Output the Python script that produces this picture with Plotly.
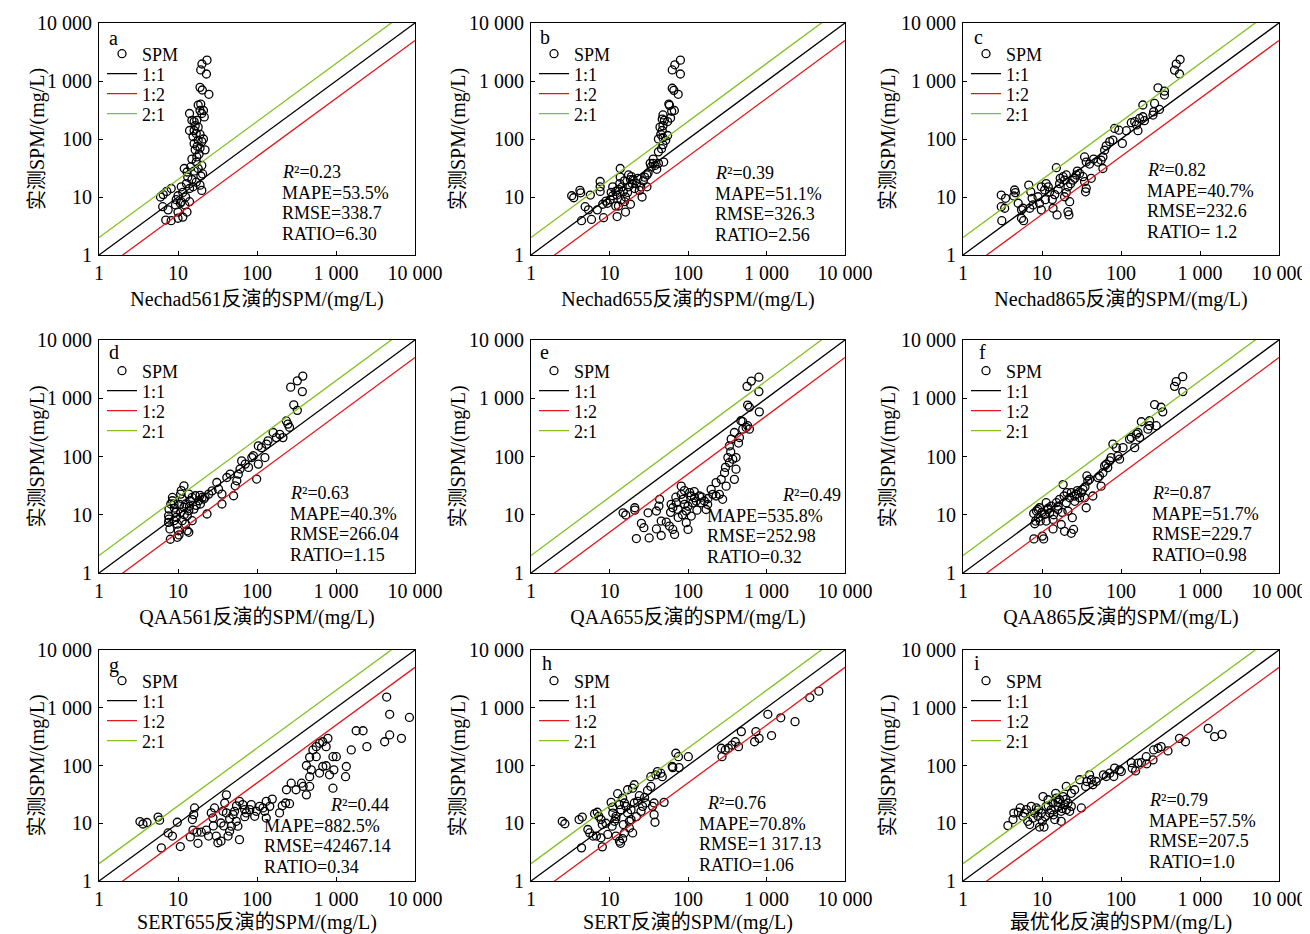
import plotly.graph_objects as go

# ---------------- data ----------------
tick_vals = [1, 10, 100, 1000, 10000]
tick_text = ["1", "10", "100", "1 000", "10 000"]
panel_letters = ["a", "b", "c", "d", "e", "f", "g", "h", "i"]
x_titles = ["Nechad561反演的SPM/(mg/L)", "Nechad655反演的SPM/(mg/L)", "Nechad865反演的SPM/(mg/L)",
            "QAA561反演的SPM/(mg/L)", "QAA655反演的SPM/(mg/L)", "QAA865反演的SPM/(mg/L)",
            "SERT655反演的SPM/(mg/L)", "SERT反演的SPM/(mg/L)", "最优化反演的SPM/(mg/L)"]
y_title = "实测SPM/(mg/L)"
r2_vals = ["0.23", "0.39", "0.82", "0.63", "0.49", "0.87", "0.44", "0.76", "0.79"]
mape_vals = ["53.5%", "51.1%", "40.7%", "40.3%", "535.8%", "51.7%", "882.5%", "70.8%", "57.5%"]
rmse_vals = ["338.7", "326.3", "232.6", "266.04", "252.98", "229.7", "42467.14", "1 317.13", "207.5"]
ratio_vals = ["6.30", "2.56", " 1.2", "1.15", "0.32", "0.98", "0.34", "1.06", "1.0"]
ref_names = ["1:1", "1:2", "2:1"]
ref_ratios = [1.0, 0.5, 2.0]
ref_x = [1, 10000]

a_x = [6.0, 6.5, 7.2, 8.2, 6.4, 7.5, 7.0, 8.2, 10, 11.5,
       13, 10, 9.3, 10.7, 9.5, 10, 11.5, 11, 12.8, 14,
       12.5, 14, 11, 12.2, 12, 13.3, 15, 15.5, 17, 19,
       20, 19.5, 20.5, 18, 17, 17.3, 16.5, 19, 16, 18,
       20, 22, 21, 17, 16, 18, 16, 17.3, 20, 19,
       18, 19.4, 21, 21.5, 14, 15, 14, 23.3, 20.1, 19.4,
       22.9, 19, 20.3, 24.6, 15.5, 18.5, 16.5, 19, 17.5, 15,
       20, 13, 16, 14.5]
a_y = [10, 11, 12.5, 14, 6.8, 6, 4, 3.9, 4.3, 4.5,
       5.5, 5.5, 7.3, 7.8, 9, 10.5, 12, 15, 17, 14,
       10, 8.3, 8.3, 7.3, 31, 22, 20, 15, 18, 16,
       13, 23, 25, 31, 40, 49, 65, 70, 83, 95,
       90, 65, 100, 125, 140, 160, 200, 210, 275, 310,
       385, 400, 310, 240, 140, 210, 275, 2290, 1963, 1550,
       1320, 777, 700, 590, 110, 55, 170, 120, 75, 45,
       35, 27, 28, 33]

b_x = [3.3, 3.5, 4.2, 4.3, 5.7, 4.4, 5.9, 4.9, 5.4, 7.6,
       7.6, 7.6, 8.2, 8.4, 7.0, 9.4, 10.2, 11, 11, 12,
       12.5, 12.5, 13.7, 13.7, 13.5, 14.5, 15, 16, 15.5, 16,
       17.5, 18.5, 19.5, 17.5, 13, 14, 12, 18.5, 20, 22,
       23, 24, 25, 26, 28, 30, 31, 30, 34, 36,
       38, 42, 40, 42, 46, 48, 42, 48, 49, 52,
       55, 47, 48, 50, 47, 48, 55, 60, 62, 58,
       57, 67, 63, 66, 75, 63, 68, 80, 80, 9,
       10.5, 13, 15.5, 17, 19, 21, 27, 33, 36, 45,
       44]
b_y = [10.5, 9.7, 13, 11.8, 10.8, 3.9, 4.1, 6.8, 6, 18.5,
       15, 12.5, 7.5, 4.4, 6, 7.8, 9, 10.5, 15, 12.5,
       10.8, 4.6, 31, 22, 17, 15, 12.5, 10, 8.3, 5.5,
       24, 20, 17, 15, 7, 9, 7, 7.5, 20, 17,
       21, 13, 15, 10, 22, 24, 26, 15, 33, 38,
       35, 38, 30, 60, 68, 80, 100, 105, 40, 95,
       115, 140, 170, 210, 220, 260, 200, 230, 300, 380,
       400, 310, 750, 690, 590, 1550, 1900, 2290, 1320, 8.5,
       12, 13.5, 19, 12, 22.5, 14, 19, 38, 45, 120,
       160]

c_x = [3.05, 3.05, 3.37, 3.1, 3.46, 4.5, 4.6, 4.4, 5.0, 5.5,
       5.75, 5.5, 5.85, 6.8, 7.2, 7.0, 7.7, 8.9, 9.3, 9.8,
       9.8, 10.8, 11.3, 12.5, 13.5, 13.8, 15.5, 15.2, 16.7, 18.5,
       19.3, 20.3, 21.3, 21.3, 21.9, 22.4, 20.3, 19.3, 24.7, 27.2,
       29.9, 33, 34.6, 36.3, 35.6, 34.6, 36.3, 40, 42, 51,
       56, 59, 62, 65, 72, 79, 59, 83, 94, 104,
       117, 135, 149, 157, 164, 172, 189, 198, 189, 254,
       259, 266, 307, 294, 355, 355, 476, 500, 560, 550,
       12, 14.5, 17, 23, 26, 11, 16, 45, 28, 7.5]
c_y = [10.8, 6.8, 6.4, 3.9, 9.5, 13.2, 11.9, 10.4, 7.8, 6.0,
       6.4, 4.3, 3.9, 16, 12.3, 6.4, 7.3, 10.1, 7.8, 6.0,
       15, 13.2, 17, 12.3, 9.1, 6.4, 4.9, 32, 17, 22.4,
       19.6, 24, 15, 5.6, 4.9, 8.3, 11.9, 10.1, 19.6, 24,
       25.5, 22.4, 18.4, 14.1, 12.3, 49, 40, 37, 21, 40,
       43, 49, 64, 76, 90, 96, 31, 152, 142, 84,
       139, 191, 199, 175, 139, 226, 242, 207, 386, 259,
       295, 410, 323, 763, 670, 572, 1540, 1960, 2350, 1320,
       15, 11, 21, 17, 21, 9, 13.5, 45, 28, 9.5]

d_x = [7.6, 7.7, 7.6, 7.9, 8.0, 8.5, 8.9, 9.3, 9.5, 9.8,
       10.1, 10.3, 10.8, 11.3, 11.9, 12.5, 13.1, 12.5, 13.1, 13.7,
       13.7, 14.4, 15.1, 15.1, 16.6, 18.3, 19.2, 20.2, 21.2, 23.3,
       24.5, 27, 8.1, 8.9, 9.8, 11.3, 11.9, 13.7, 10.8, 15.9,
       8.5, 7.7, 31, 32.6, 36, 36, 41.5, 45.7, 50.5, 53,
       55.5, 58, 61, 64, 71, 78, 86, 90, 99, 104,
       104, 114, 126, 132, 138, 160, 176, 194, 213, 235,
       246, 258, 292, 324, 267, 324, 380, 375, 9, 10.5,
       12, 14, 17, 19, 22, 11]
d_y = [9.6, 12.5, 7.4, 5.7, 3.8, 17.4, 15.3, 11, 9.0, 6.9,
       5.3, 4.5, 22.6, 18.6, 31.4, 15.3, 9.6, 6.9, 5.3, 11.7,
       22.6, 17.4, 7.9, 19.8, 21.2, 17.4, 15.3, 19.8, 18.6, 10.3,
       22.6, 25.7, 15.3, 7.9, 4.1, 7.9, 13.4, 5.0, 11, 12.5,
       19.8, 8.4, 35.8, 27.5, 22.6, 15.3, 43.6, 49.8, 21.2, 31.4,
       38.3, 49.8, 61, 84, 74, 65, 96, 103, 41, 74,
       152, 142, 96, 163, 186, 258, 211, 240, 211, 408,
       360, 318, 770, 620, 1550, 1990, 2400, 1300, 13, 15,
       10, 14, 14.5, 21.5, 20, 26]

e_x = [14.9, 16.1, 21, 21, 31, 22, 32, 25.5, 27.4, 39.6,
       45.6, 39.6, 42.6, 43.5, 45.6, 52.9, 58, 64, 67.5, 61,
       64, 71, 74.6, 82, 82, 86.5, 90.6, 95, 95, 100,
       105, 110, 115, 121, 127, 140, 147, 162, 170, 178,
       197, 207, 228, 251, 276, 228, 265, 292, 306, 322,
       337, 372, 409, 409, 390, 337, 355, 390, 452, 498,
       550, 472, 498, 575, 605, 575, 605, 810, 565, 640,
       800, 800, 75, 85, 100, 110, 130, 150, 60, 70,
       90, 120, 180, 300, 350, 440]
e_y = [10.8, 9.9, 13.2, 12.0, 10.8, 3.9, 4.0, 7.1, 6.0, 5.7,
       4.4, 11.6, 14.1, 18.4, 7.8, 7.5, 6.4, 5.6, 4.6, 15.1,
       13.2, 16.1, 12.3, 31, 22.4, 18.4, 15.1, 11.6, 7.3, 5.6,
       24, 21, 16, 19.6, 17.2, 21, 16, 17.2, 12.3, 15,
       27.3, 22.4, 21, 22.4, 18.4, 35.6, 40.5, 52.8, 31, 96,
       78.6, 90, 96, 60.5, 40.5, 152, 199, 258, 212, 295,
       316, 411, 396, 338, 295, 765, 700, 584, 1600, 1970,
       2300, 1300, 9, 10, 14, 9.5, 12, 20, 11, 20,
       26, 25, 19, 65, 120, 170]

f_x = [7.85, 8.1, 8.3, 7.9, 8.5, 8.9, 9.3, 9.5, 10.1, 10.5,
       10.8, 11.3, 11.3, 11.9, 12.5, 13.1, 13.8, 13.8, 15.2, 15.9,
       16.7, 18.5, 17.5, 19.3, 20.3, 20.7, 21.3, 22.4, 23.5, 24.2,
       23.5, 25.1, 25.9, 27.2, 29.9, 31.5, 33, 34.6, 36.3, 37,
       38, 40, 44, 51, 53.5, 56, 59, 62, 65, 68,
       72, 75, 79, 87.4, 91.5, 96, 106, 128, 135, 149,
       157, 164, 172, 181, 219, 230, 230, 279, 266, 322,
       338, 476, 500, 605, 605, 9, 10, 12, 14, 16,
       18, 19, 26, 28, 35]
f_y = [10.5, 7.0, 7.8, 3.85, 11.6, 12.3, 13.2, 7.8, 4.3, 3.85,
       10.1, 16.1, 7.8, 12.3, 10.8, 14.1, 5.7, 8.3, 16.1, 12.3,
       18.4, 33, 6.8, 5.2, 16.1, 24, 11.6, 19.6, 24, 8.9,
       4.8, 5.6, 21, 22.4, 19.6, 24, 27.3, 19.6, 13.2, 46.4,
       38, 40.5, 21, 43.4, 46.4, 31, 52.8, 69, 73.6, 64.5,
       84, 96, 163, 142, 102, 90, 142, 199, 212, 142,
       242, 258, 212, 395, 295, 338, 411, 338, 780, 700,
       584, 1600, 1930, 2350, 1300, 9, 11, 13, 10, 14,
       11, 21, 17, 26, 30]

g_x = [3.3, 3.6, 4.05, 5.6, 5.85, 6.15, 7.5, 8.5, 9.8, 10.7,
       14.3, 15.5, 15.2, 15.8, 16.2, 17.4, 17.9, 19.7, 22.8, 24.4,
       26.4, 27.7, 29, 30.5, 32, 35, 35, 37, 39, 41,
       41, 43, 45, 47.4, 49.7, 52, 54.6, 57.3, 60, 60,
       66, 69.8, 73.2, 81, 84.6, 93.5, 98, 108, 119, 125,
       131, 131, 145, 156, 193, 209, 230, 258, 236, 271,
       312, 366, 384, 422, 464, 464, 422, 486, 562, 619,
       680, 750, 828, 915, 940, 464, 510, 562, 619, 680,
       750, 790, 915, 1010, 1350, 1320, 1560, 1800, 2200, 2460,
       4130, 4780, 6740, 8500, 4780, 4380, 45, 55, 70, 38,
       28]
g_y = [10.7, 9.7, 10.3, 12.8, 11.3, 3.75, 6.8, 6.0, 10.4, 3.95,
       5.8, 7.6, 11.6, 14.1, 18.4, 7.0, 4.5, 7.0, 7.6, 6.0,
       15.1, 12.4, 18.4, 6.0, 4.6, 4.9, 10.1, 16.1, 22.4, 31,
       15.1, 6.0, 7.3, 8.9, 14.1, 16.1, 10.8, 8.9, 5.2, 24,
       21, 17.2, 15.1, 17.2, 21, 13.2, 16.1, 19.6, 18.4, 16.1,
       12.3, 24, 19.6, 26.2, 15.1, 20.1, 22.4, 21.8, 38, 49.4,
       38, 49.4, 43.4, 31, 43.4, 64, 100, 84, 142, 74,
       96, 99, 69, 40.5, 84, 139, 186, 212, 242, 258,
       212, 295, 142, 142, 96, 64, 186, 400, 400, 212,
       258, 338, 295, 680, 770, 1530, 12, 20, 13, 9,
       9]

h_x = [2.5, 2.7, 4.1, 4.5, 4.4, 5.3, 5.6, 6.15, 6.45, 7.0,
       7.3, 6.8, 7.8, 8.1, 7.8, 8.1, 9.5, 10.5, 11, 10.8,
       11.6, 12.1, 12.1, 12.7, 13.4, 14, 14.7, 15.5, 16.2, 17,
       17.9, 17.9, 18.8, 19.7, 13.4, 13.8, 14.7, 15.5, 17, 19.7,
       20.7, 18.8, 20.7, 22.8, 25.2, 26.4, 29, 30.5, 33.6, 35.3,
       37, 37, 38, 33.6, 38.9, 40.8, 45, 47, 49.6, 63,
       64, 70, 75.5, 77, 101, 266, 271, 298, 326, 363,
       400, 440, 478, 705, 733, 805, 1040, 1160, 1520, 2310,
       3560, 4640, 9, 12, 15, 22, 24, 28, 11]
h_y = [10.8, 9.8, 11.6, 12.8, 3.75, 7.8, 6.8, 6.0, 14.6, 15.5,
       13.2, 6.0, 5.6, 3.9, 11.6, 9.5, 6.4, 23, 15, 8.9,
       10.8, 13.2, 6.0, 32.5, 21, 17.2, 27.3, 22.4, 19.6, 15.1,
       10.8, 8.3, 11.6, 6.8, 4.9, 4.5, 5.4, 6.8, 38, 40.5,
       46.4, 17.2, 22.4, 24, 16.1, 19.6, 22.4, 37, 43.4, 19.6,
       22.4, 14.1, 10.4, 64, 69, 78.6, 73.6, 64, 23, 96,
       92, 163, 142, 92, 142, 199, 142, 186, 199, 226,
       258, 212, 386, 258, 386, 295, 770, 330, 670, 575,
       1500, 1940, 10, 12, 9.5, 13, 30, 28, 19]

i_x = [3.7, 4.3, 4.4, 5.0, 5.3, 5.75, 6.0, 6.35, 6.6, 7.0,
       7.3, 7.7, 8.1, 8.5, 8.9, 9.3, 9.8, 10.1, 10.3, 10.6,
       11.3, 11.9, 12.5, 13.1, 13.8, 14.5, 14.9, 15.2, 15.9, 16.7,
       17.5, 17.5, 18.5, 19.3, 20.3, 20.3, 21.3, 22.4, 23.5, 23.5,
       25.9, 31.5, 30, 35.7, 37, 40, 42, 44, 48.6, 60,
       65, 72, 81, 83, 96, 101, 135, 139, 153, 164,
       181, 209, 212, 254, 259, 294, 322, 393, 550, 655,
       1270, 1530, 1900, 12, 14, 16, 18, 20, 9, 11]
i_y = [9.1, 11.6, 15, 15.5, 18.4, 13.2, 15, 17.2, 10.8, 9.5,
       19.6, 12.3, 15, 18.4, 13.2, 8.6, 15, 10.8, 29, 8.6,
       19.6, 25.5, 15, 17.2, 22.4, 11.6, 33, 27.3, 19.6, 25.5,
       16.1, 10.8, 29, 21, 43.4, 17.2, 22.4, 16.1, 19.6, 33,
       38, 18.4, 56.6, 43.4, 52.8, 69, 56.6, 46.4, 52.8, 69,
       64.5, 73.6, 64.5, 90, 84, 78.6, 112, 90, 80.7, 110,
       112, 142, 107, 125, 186, 199, 212, 179, 295, 258,
       440, 316, 346, 20, 14, 23, 18, 26, 17, 13]

panel_x = [a_x, b_x, c_x, d_x, e_x, f_x, g_x, h_x, i_x]
panel_y = [a_y, b_y, c_y, d_y, e_y, f_y, g_y, h_y, i_y]

# ---------------- layout / style ----------------
# The page body adds an 8 px margin, so the figure is made 8 px smaller and
# all page-pixel positions below are shifted by that offset.
OFF = 8
W, H = 1310 - OFF, 934 - OFF
FONT = "Liberation Serif, Times New Roman, Noto Sans CJK SC, serif"
COLORS = ["#000000", "#e5161d", "#82c11e"]
col_left = [99, 531, 963]
col_right = [415, 845, 1279]
row_top = [23, 340, 650]
row_bot = [255, 573, 881]
legend_offsets = [31, 51, 71, 91]
letter_pos = [(107, 38), (538, 37), (972, 37), (107, 352), (538, 352), (977, 352),
              (107, 665), (540, 663), (972, 663)]
stat_x_r2 = [280, 713, 1145, 288, 780, 1150, 328, 705, 1147]
stat_x = [280, 713, 1145, 288, 705, 1150, 262, 697, 1147]
stat_mid = [203, 204, 201, 524, 526, 524, 836, 834, 831]
stat_steps = [-31, -10.3, 10.3, 31]
ytitle_x = [37, 458, 888]
STAT_SIZE = 18
LEG_SIZE = 18


def px(xp):
    return (xp - OFF) / W


def py(yp):
    return 1 - (yp - OFF) / H


fig = go.Figure()
layout = dict(
    template="none",
    width=W, height=H, margin=dict(l=0, r=0, t=0, b=0, pad=0, autoexpand=False),
    paper_bgcolor="white", plot_bgcolor="white",
    font=dict(family=FONT, size=20, color="black"),
    showlegend=True,
)
annotations = []

for k in range(9):
    r, c = divmod(k, 3)
    sfx = "" if k == 0 else str(k + 1)
    xa, ya = "x" + sfx, "y" + sfx
    leg_names = []
    for j in range(4):
        lid = k * 4 + j + 1
        lname = "legend" if lid == 1 else f"legend{lid}"
        leg_names.append(lname)
        layout[lname] = dict(
            x=px(col_left[c] + 3), y=py(row_top[r] + legend_offsets[j]),
            xanchor="left", yanchor="middle",
            bgcolor="rgba(0,0,0,0)", borderwidth=0,
            font=dict(family=FONT, size=LEG_SIZE, color="black"),
            itemwidth=30, tracegroupgap=0,
        )
    fig.add_trace(go.Scatter(
        x=panel_x[k], y=panel_y[k], mode="markers", name="SPM",
        marker=dict(symbol="circle-open", size=8, color="black", line=dict(width=1.3, color="black")),
        xaxis=xa, yaxis=ya, legend=leg_names[0], hoverinfo="x+y",
    ))
    for j in range(3):
        fig.add_trace(go.Scatter(
            x=ref_x, y=[v * ref_ratios[j] for v in ref_x], mode="lines", name=ref_names[j],
            line=dict(color=COLORS[j], width=1.3),
            xaxis=xa, yaxis=ya, legend=leg_names[j + 1], hoverinfo="skip",
        ))
    xkey = "xaxis" + sfx
    ykey = "yaxis" + sfx
    common = dict(
        type="log", range=[0, 4], tickvals=tick_vals, ticktext=tick_text,
        ticks="inside", ticklen=4, tickwidth=1, tickcolor="black",
        showline=True, linecolor="black", linewidth=1, mirror=True,
        showgrid=False, zeroline=False, automargin=False,
        tickfont=dict(family=FONT, size=20, color="black"),
    )
    layout[xkey] = dict(common, domain=[px(col_left[c]), px(col_right[c])], anchor=ya,
                        title=dict(text=x_titles[k], standoff=8,
                                   font=dict(family=FONT, size=20, color="black")))
    layout[ykey] = dict(common, domain=[py(row_bot[r]), py(row_top[r])], anchor=xa,
                        ticklabelstandoff=2)

    # y-axis title
    annotations.append(dict(x=px(ytitle_x[c]), y=py((row_top[r] + row_bot[r]) / 2),
                            xref="paper", yref="paper", text=y_title, showarrow=False,
                            textangle=-90, xanchor="center", yanchor="middle",
                            font=dict(family=FONT, size=20, color="black")))
    # panel letter
    lx, ly = letter_pos[k]
    annotations.append(dict(x=px(lx), y=py(ly), xref="paper", yref="paper", text=panel_letters[k],
                            showarrow=False, xanchor="left", yanchor="middle",
                            font=dict(family=FONT, size=20, color="black")))
    # statistics
    lines = ["<i>R</i>²=" + r2_vals[k], "MAPE=" + mape_vals[k],
             "RMSE=" + rmse_vals[k], "RATIO=" + ratio_vals[k]]
    for j, t in enumerate(lines):
        sx = stat_x_r2[k] if j == 0 else stat_x[k]
        annotations.append(dict(x=px(sx), y=py(stat_mid[k] + stat_steps[j]), xref="paper", yref="paper",
                                text=t, showarrow=False, xanchor="left", yanchor="middle",
                                font=dict(family=FONT, size=STAT_SIZE, color="black")))

layout["annotations"] = annotations
fig.update_layout(**layout)
fig.write_html("out.html")
